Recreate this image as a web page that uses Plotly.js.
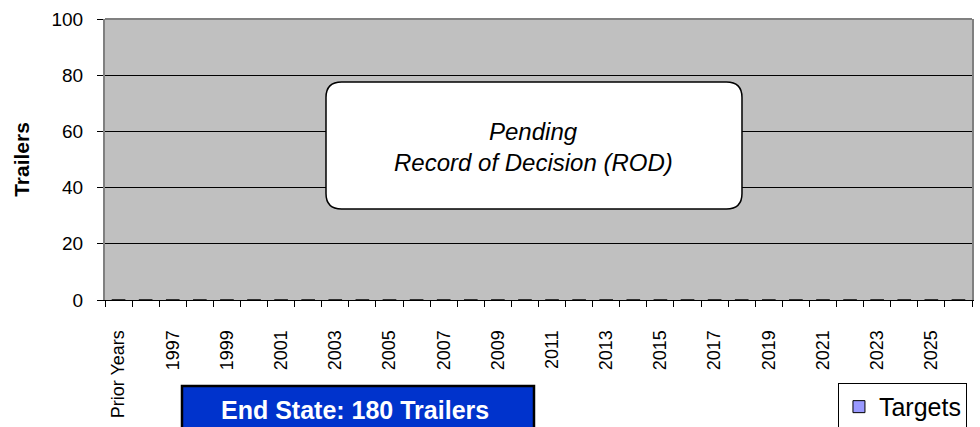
<!DOCTYPE html>
<html>
<head>
<meta charset="utf-8">
<script src="https://cdn.plot.ly/plotly-3.0.1.min.js"></script>
<style>html,body{margin:0;padding:0;background:#fff;}#chart{width:980px;height:427px;}</style>
</head>
<body>
<div id="chart"></div>
<script>
const categories = ['Prior Years','1996','1997','1998','1999','2000','2001','2002','2003','2004','2005','2006','2007','2008','2009','2010','2011','2012','2013','2014','2015','2016','2017','2018','2019','2020','2021','2022','2023','2024','2025','2026'];
const targets = [0,0,0,0,0,0,0,0,0,0,0,0,0,0,0,0,0,0,0,0,0,0,0,0,0,0,0,0,0,0,0,0];
const tickLabels = ['Prior Years','','1997','','1999','','2001','','2003','','2005','','2007','','2009','','2011','','2013','','2015','','2017','','2019','','2021','','2023','','2025',''];
const yTicks = [0,20,40,60,80,100];

const FONT = 'Arial, "Liberation Sans", sans-serif';

// geometry for the note box (paper coordinates)
const bx0 = 0.2549, bx1 = 0.7347, by0 = 0.3238, by1 = 0.7758, rx = 0.018, ry = 0.055;
const rounded = `M ${bx0+rx},${by1} L ${bx1-rx},${by1} Q ${bx1},${by1} ${bx1},${by1-ry} L ${bx1},${by0+ry} Q ${bx1},${by0} ${bx1-rx},${by0} L ${bx0+rx},${by0} Q ${bx0},${by0} ${bx0},${by0+ry} L ${bx0},${by1-ry} Q ${bx0},${by1} ${bx0+rx},${by1} Z`;

const data = [{
  type: 'bar',
  name: 'Targets',
  x: categories,
  y: targets,
  marker: {color: '#9999FF', line: {color: '#000', width: 1}},
  showlegend: true
}];

const layout = {
  width: 980, height: 427,
  margin: {l: 105, r: 8, t: 19, b: 127, autoexpand: false},
  paper_bgcolor: '#ffffff',
  plot_bgcolor: '#C0C0C0',
  font: {family: FONT, color: '#000'},
  xaxis: {
    type: 'category',
    tickvals: categories,
    ticktext: tickLabels,
    tickangle: -90,
    tickfont: {size: 18, family: FONT, color: '#000'},
    ticks: 'outside', ticklen: 6, tickcolor: '#000', tickwidth: 1,
    tickson: 'boundaries',
    ticklabelstandoff: 22,
    showline: true, linecolor: '#000', linewidth: 1, mirror: false,
    showgrid: false, zeroline: false, fixedrange: true
  },
  yaxis: {
    range: [0, 100],
    tickvals: yTicks,
    tickfont: {size: 19, family: FONT, color: '#000'},
    ticks: 'outside', ticklen: 6, tickcolor: '#000', tickwidth: 1,
    ticklabelstandoff: 10,
    showline: true, linecolor: '#808080', linewidth: 2, mirror: true,
    showgrid: true, gridcolor: '#000', gridwidth: 1,
    zeroline: true, zerolinecolor: '#000', zerolinewidth: 1,
    title: {text: '<b>Trailers</b>', font: {size: 21, family: FONT, color: '#000'}, standoff: 16},
    fixedrange: true
  },
  bargap: 0.5,
  legend: {
    x: 0.8454, xanchor: 'left', y: -0.295, yanchor: 'top',
    bgcolor: '#fff', bordercolor: '#000', borderwidth: 1,
    font: {size: 25, family: FONT, color: '#000'}
  },
  shapes: [
    {type: 'line', xref: 'paper', yref: 'paper', x0: 0, x1: 1, y0: 1, y1: 1,
     line: {color: '#808080', width: 2}, layer: 'above'},
    {type: 'path', xref: 'paper', yref: 'paper', path: rounded,
     fillcolor: '#ffffff', line: {color: '#000', width: 1.5}, layer: 'above'},
    {type: 'rect', xref: 'paper', yref: 'paper', x0: 0.0888, x1: 0.4948, y0: -0.52, y1: -0.306,
     fillcolor: '#0033CC', line: {color: '#000', width: 2.5}, layer: 'above'}
  ],
  annotations: [
    {xref: 'paper', yref: 'paper', x: (bx0+bx1)/2, y: (300-131)/281, yanchor: 'middle', showarrow: false,
     text: '<i>Pending</i>',
     font: {size: 24, family: FONT, color: '#000'}},
    {xref: 'paper', yref: 'paper', x: (bx0+bx1)/2, y: (300-162)/281, yanchor: 'middle', showarrow: false,
     text: '<i>Record of Decision (ROD)</i>',
     font: {size: 24, family: FONT, color: '#000'}},
    {xref: 'paper', yref: 'paper', x: 0.2878, y: -0.39, xanchor: 'center', yanchor: 'middle', showarrow: false,
     text: '<b>End State: 180 Trailers</b>',
     font: {size: 25, family: FONT, color: '#fff'}}
  ]
};

Plotly.newPlot('chart', data, layout, {displayModeBar: false, staticPlot: true});
</script>
</body>
</html>
